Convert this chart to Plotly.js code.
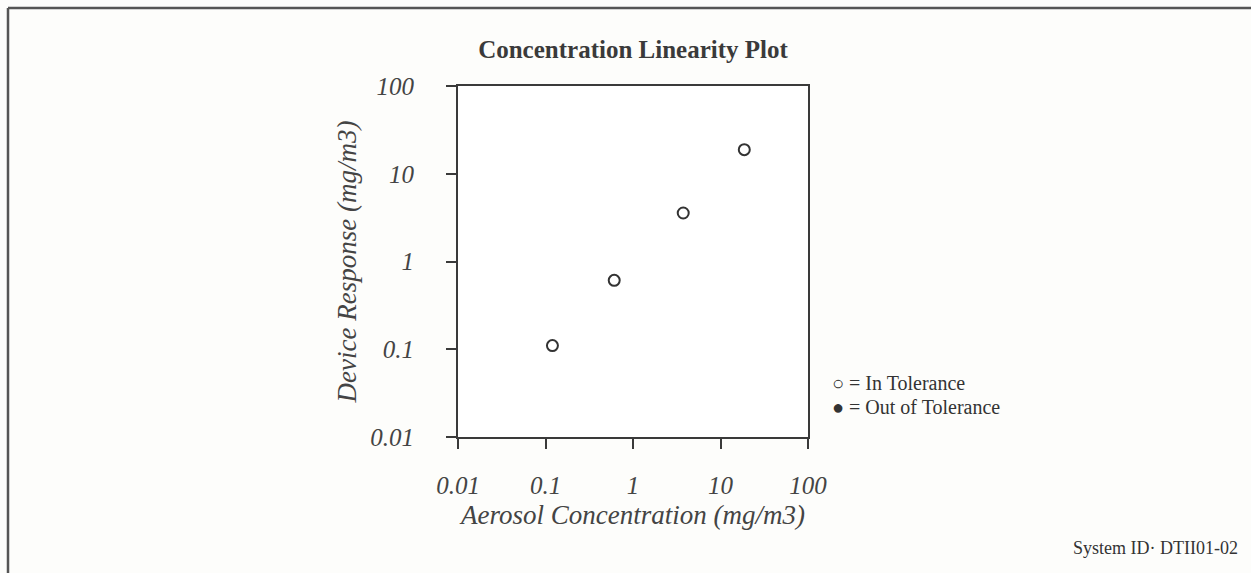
<!DOCTYPE html>
<html>
<head>
<meta charset="utf-8">
<script src="https://cdn.plot.ly/plotly-3.0.1.min.js"></script>
<style>
  html, body { margin: 0; padding: 0; background: #fdfdfb; }
  #chart { width: 1251px; height: 573px; }
</style>
</head>
<body>
<div id="chart"></div>
<script>
// Data
const aerosolConcentration = [0.12, 0.61, 3.75, 18.7];   // x, mg/m3
const deviceResponse       = [0.11, 0.61, 3.57, 18.8];   // y, mg/m3
const tickValues = [0.01, 0.1, 1, 10, 100];
const tickLabels = ['0.01', '0.1', '1', '10', '100'];

const serif = 'Liberation Serif, Times New Roman, serif';
const axisColor = '#3a3a3a';

const traces = [
  {
    type: 'scatter',
    mode: 'markers',
    name: 'In Tolerance',
    x: aerosolConcentration,
    y: deviceResponse,
    marker: { symbol: 'circle-open', size: 11, color: '#333333', line: { width: 2, color: '#333333' } },
    showlegend: false,
    cliponaxis: false
  }
];

const axisCommon = {
  type: 'log',
  range: [-2, 2],
  tickvals: tickValues,
  ticktext: tickLabels,
  ticks: 'outside',
  ticklen: 10,
  tickwidth: 2,
  tickcolor: axisColor,
  showline: true,
  linecolor: axisColor,
  linewidth: 2,
  mirror: true,
  showgrid: false,
  zeroline: false,
  automargin: false,
  tickfont: { family: serif, size: 25, color: '#444444', style: 'italic' }
};

const layout = {
  width: 1251,
  height: 573,
  margin: { l: 458, r: 443, t: 86, b: 136 },
  paper_bgcolor: '#fdfdfb',
  plot_bgcolor: '#ffffff',
  showlegend: false,
  title: {
    text: '<b>Concentration Linearity Plot</b>',
    font: { family: serif, size: 25, color: '#3a3a3a' },
    xref: 'paper', x: 0.5, xanchor: 'center',
    yref: 'container', y: 1 - 49 / 573, yanchor: 'middle'
  },
  xaxis: Object.assign({}, axisCommon, {
    ticklabelstandoff: 15,
    title: {
      text: 'Aerosol Concentration (mg/m3)',
      font: { family: serif, size: 27, color: '#444444', style: 'italic' },
      standoff: 7
    }
  }),
  yaxis: Object.assign({}, axisCommon, {
    ticklabelstandoff: 27,
    title: {
      text: 'Device Response (mg/m3)',
      font: { family: serif, size: 27, color: '#444444', style: 'italic' },
      standoff: 6
    }
  }),
  annotations: [
    { xref: 'paper', yref: 'paper', x: (830 - 458) / 350, y: (437 - 383) / 351,
      xanchor: 'left', yanchor: 'middle', showarrow: false,
      text: '○ = In Tolerance', font: { family: serif, size: 20, color: '#333333' } },
    { xref: 'paper', yref: 'paper', x: (830 - 458) / 350, y: (437 - 407) / 351,
      xanchor: 'left', yanchor: 'middle', showarrow: false,
      text: '● = Out of Tolerance', font: { family: serif, size: 20, color: '#333333' } },
    { xref: 'paper', yref: 'paper', x: (1240 - 458) / 350, y: (437 - 548) / 351,
      xanchor: 'right', yanchor: 'middle', showarrow: false,
      text: 'System ID· DTII01-02', font: { family: serif, size: 18, color: '#333333' } }
  ],
  shapes: [
    { type: 'line', xref: 'paper', yref: 'paper',
      x0: (8 - 458) / 350, x1: (1251 - 458) / 350, y0: (437 - 8) / 351, y1: (437 - 8) / 351,
      line: { color: '#555555', width: 2.5 } },
    { type: 'line', xref: 'paper', yref: 'paper',
      x0: (8 - 458) / 350, x1: (8 - 458) / 350, y0: (437 - 8) / 351, y1: (437 - 573) / 351,
      line: { color: '#555555', width: 2.5 } }
  ]
};

Plotly.newPlot('chart', traces, layout, { displayModeBar: false, staticPlot: true });
</script>
</body>
</html>
